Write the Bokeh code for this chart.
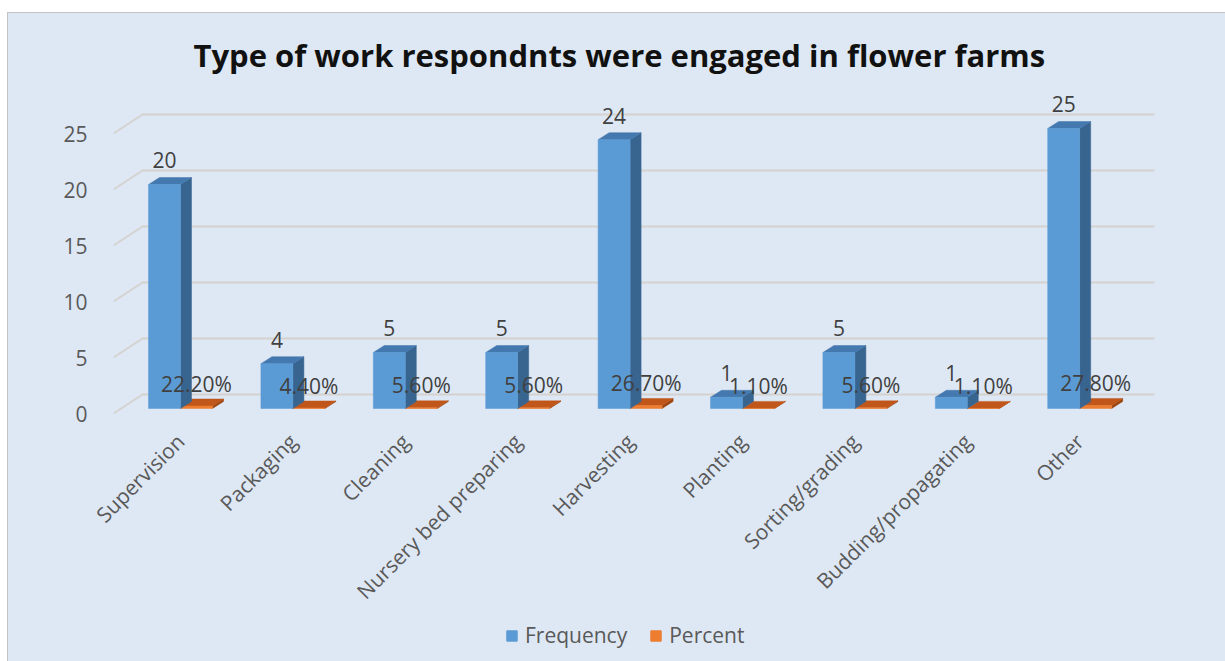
import math
from bokeh.plotting import figure
from bokeh.models import FixedTicker, Legend, LegendItem, Range1d, Spacer
from bokeh.layouts import row, column
from bokeh.embed import file_html
from bokeh.resources import INLINE
from bokeh.core.properties import value

# ---------------- data ----------------
categories = ["Supervision", "Packaging", "Cleaning", "Nursery bed preparing", "Harvesting",
              "Planting", "Sorting/grading", "Budding/propagating", "Other"]
frequency = [20, 4, 5, 5, 24, 1, 5, 1, 25]
percent = [0.222, 0.044, 0.056, 0.056, 0.267, 0.011, 0.056, 0.011, 0.278]
y_ticks = [0, 5, 10, 15, 20, 25]
series_names = ["Frequency", "Percent"]
title_text = "Type of work respondnts were engaged in flower farms"

# ---------------- layout (pixels) ----------------
PX_X = 112.4          # px per category
PX_Y = 11.2           # px per unit
FRAME_W, FRAME_H = 1043, 340
x_start = -67 / PX_X
x_end = x_start + FRAME_W / PX_X
y_start = -12 / PX_Y
y_end = y_start + FRAME_H / PX_Y

BW = 32 / PX_X        # bar width
DX = 11 / PX_X        # 3d depth of bars
DY = 7 / PX_Y
Z0 = 5 / PX_Y         # bar plane above front plane
GDX = 29 / PX_X       # depth of grid wall
GDY = 19 / PX_Y
GRID_END = x_start + 1041 / PX_X

BG = "#dee8f4"
TXT = "#595959"
LBL = "#404040"
FONT = "Open Sans"
FS = "21px"
BLUE = ("#5b9bd5", "#4479b0", "#386490")
ORANGE = ("#ed7d31", "#c0561a", "#9c4410")

p = figure(frame_width=FRAME_W, frame_height=FRAME_H,
           x_range=Range1d(x_start, x_end), y_range=Range1d(y_start, y_end),
           output_backend="svg", toolbar_location=None,
           min_border_left=105, min_border_right=69, min_border_top=72, min_border_bottom=196)
p.background_fill_color = None
p.border_fill_color = None
p.outline_line_color = None
p.xgrid.visible = False
p.ygrid.visible = False

p.title.text = title_text
p.title.text_font = FONT
p.title.text_font_size = "31px"
p.title.text_font_style = "bold"
p.title.text_color = "#111111"
p.title.align = "left"
p.title.offset = 80
p.title.standoff = 20

# gridlines (3d wall)
gx = [[x_start, x_start + GDX, GRID_END] for t in y_ticks]
gy = [[t, t + GDY, t + GDY] for t in y_ticks]
p.multi_line(gx, gy, line_color="#d4d2cf", line_width=1.8)

centers = list(range(len(categories)))

def bar3d(left_list, heights, colors):
    front, top, side = colors
    fl, fr, fb, ft = [], [], [], []
    sx, sy, tx, ty = [], [], [], []
    for l, h in zip(left_list, heights):
        r = l + BW
        fl.append(l); fr.append(r); fb.append(Z0); ft.append(Z0 + h)
        sx.append([r, r + DX, r + DX, r]); sy.append([Z0, Z0 + DY, Z0 + h + DY, Z0 + h])
        tx.append([l, l + DX, r + DX, r]); ty.append([Z0 + h, Z0 + h + DY, Z0 + h + DY, Z0 + h])
    p.patches(sx, sy, fill_color=side, line_color=side, line_width=0.5)
    p.patches(tx, ty, fill_color=top, line_color=top, line_width=0.5)
    return p.quad(left=fl, right=fr, bottom=fb, top=ft, fill_color=front, line_color=front, line_width=0.5)

bar3d(centers, percent, ORANGE)
bar3d([c - BW for c in centers], frequency, BLUE)

# data labels
p.text(x=[c - BW / 2 for c in centers], y=[Z0 + v + 2.15 for v in frequency],
       text=[str(v) for v in frequency], text_align="center", text_baseline="middle",
       text_font=value(FONT), text_font_size=FS, text_color=LBL)
p.text(x=[c + BW / 2 for c in centers], y=[Z0 + v + 2.0 for v in percent],
       text=[f"{v * 100:.2f}%" for v in percent], text_align="center", text_baseline="middle",
       text_font=value(FONT), text_font_size=FS, text_color=LBL)

# axes
p.yaxis.ticker = FixedTicker(ticks=y_ticks)
p.yaxis.axis_line_color = None
p.yaxis.major_tick_line_color = None
p.yaxis.minor_tick_line_color = None
p.yaxis.major_label_standoff = 20
p.yaxis.major_label_text_font = FONT
p.yaxis.major_label_text_font_size = FS
p.yaxis.major_label_text_color = TXT

p.xaxis.ticker = FixedTicker(ticks=centers)
p.xaxis.major_label_overrides = {c: name for c, name in zip(centers, categories)}
p.xaxis.major_label_orientation = math.pi / 4
p.xaxis.axis_line_color = None
p.xaxis.major_tick_line_color = None
p.xaxis.minor_tick_line_color = None
p.xaxis.major_label_standoff = 6
p.xaxis.major_label_text_font = FONT
p.xaxis.major_label_text_font_size = FS
p.xaxis.major_label_text_color = TXT

# ---------------- legend strip ----------------
lg = figure(width=1217, height=40, output_backend="svg", toolbar_location=None,
            x_range=Range1d(0, 1), y_range=Range1d(0, 1),
            min_border=0, x_axis_type=None, y_axis_type=None)
lg.background_fill_color = None
lg.border_fill_color = None
lg.outline_line_color = None
lg.xgrid.visible = False
lg.ygrid.visible = False
# swatch renderers kept outside the visible range; only their legend glyphs show
rf = lg.quad(left=[-3], right=[-2], bottom=[-3], top=[-2], fill_color=BLUE[0], line_color=BLUE[0])
rp = lg.quad(left=[-3], right=[-2], bottom=[-3], top=[-2], fill_color=ORANGE[0], line_color=ORANGE[0])
legend = Legend(items=[LegendItem(label=series_names[0], renderers=[rf]),
                       LegendItem(label=series_names[1], renderers=[rp])],
                orientation="horizontal", location=(392, 12),
                background_fill_alpha=0, border_line_color=None, padding=0, margin=0,
                label_text_font=FONT, label_text_font_size="21px", label_text_color=TXT,
                glyph_width=13, glyph_height=13, spacing=22, label_standoff=7)
lg.add_layout(legend, "center")

chart = column(p, lg, spacing=0)
chart.styles = {"outline": "1px solid #c4c4c4", "background-color": BG}
layout = column(Spacer(height=13), row(Spacer(width=8), chart))
open("out.html", "w").write(file_html(layout, INLINE))
